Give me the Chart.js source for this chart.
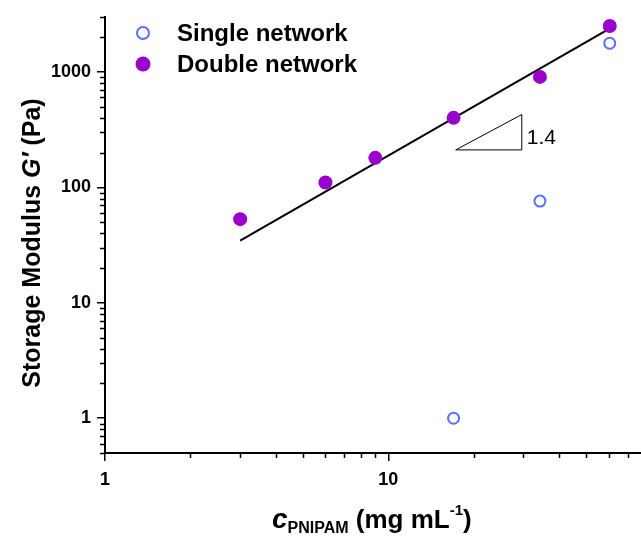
<!DOCTYPE html>
<html>
<head>
<meta charset="utf-8">
<script src="https://cdn.jsdelivr.net/npm/chart.js@4.4.1/dist/chart.umd.min.js"></script>
<style>
  html, body { margin: 0; padding: 0; background: #fff; }
  #wrap { width: 641px; height: 536px; position: relative; }
</style>
</head>
<body>
<div id="wrap"><canvas id="myChart"></canvas></div>
<script>
// data
const concDouble = [3, 6, 9, 17, 34.3, 60.5];
const modDouble = [53, 110, 180, 400, 905, 2500];
const concSingle = [17, 34.3, 60.5];
const modSingle = [1, 76, 1770];
// power law fit line (slope ~1.4)
const fitConc = [3, 58.5];
const fitMod = [34.6, 2265];
// slope triangle
const triConc = [17.3, 29.6, 29.6, 17.3];
const triMod = [211, 211, 427, 211];
const slopeText = '1.4';
// ticks
const xTicks = [1, 10];
const yTicks = [1, 10, 100, 1000];

const purple = 'rgb(153, 0, 204)';
const blue = 'rgb(90, 110, 255)';
const FONT = 'Arial, "Liberation Sans", sans-serif';

function pts(xs, ys) {
    return xs.map((x, i) => ({ x: x, y: ys[i] }));
}

// minor ticks, titles, legend and the slope label
const extras = {
    id: 'extras',
    afterDraw(chart) {
        const ctx = chart.ctx;
        const xs = chart.scales.x;
        const ys = chart.scales.y;
        const area = chart.chartArea;
        ctx.save();
        ctx.strokeStyle = '#000';
        ctx.lineWidth = 1.5;
        // minor ticks y
        for (let d = 0.1; d <= 1000; d *= 10) {
            for (let m = 2; m <= 9; m++) {
                const v = m * d;
                if (v < ys.min || v > ys.max) continue;
                const py = Math.round(ys.getPixelForValue(v)) + 0.5;
                ctx.beginPath();
                ctx.moveTo(area.left - 5, py);
                ctx.lineTo(area.left, py);
                ctx.stroke();
            }
        }
        // minor ticks x
        for (let d = 1; d <= 10; d *= 10) {
            for (let m = 2; m <= 9; m++) {
                const v = m * d;
                if (v < xs.min || v > xs.max) continue;
                const px = Math.round(xs.getPixelForValue(v)) + 0.5;
                ctx.beginPath();
                ctx.moveTo(px, area.bottom);
                ctx.lineTo(px, area.bottom + 5);
                ctx.stroke();
            }
        }

        ctx.fillStyle = '#000';
        ctx.textBaseline = 'alphabetic';
        // y title
        ctx.save();
        ctx.translate(40, 243);
        ctx.rotate(-Math.PI / 2);
        const p1 = 'Storage Modulus ';
        const p2 = 'G\u2032';
        const p3 = ' (Pa)';
        ctx.font = 'bold 25px ' + FONT;
        const w1 = ctx.measureText(p1).width;
        const w3 = ctx.measureText(p3).width;
        ctx.font = 'italic bold 25px ' + FONT;
        const w2 = ctx.measureText(p2).width;
        let tx = -(w1 + w2 + w3) / 2;
        ctx.font = 'bold 25px ' + FONT;
        ctx.textAlign = 'left';
        ctx.fillText(p1, tx, 0);
        tx += w1;
        ctx.font = 'italic bold 25px ' + FONT;
        ctx.fillText(p2, tx, 0);
        tx += w2;
        ctx.font = 'bold 25px ' + FONT;
        ctx.fillText(p3, tx, 0);
        ctx.restore();

        // x title
        let x0 = 272;
        const base = 528;
        ctx.textAlign = 'left';
        ctx.font = 'italic bold 28px ' + FONT;
        ctx.fillText('c', x0, base);
        x0 += ctx.measureText('c').width;
        ctx.font = 'bold 16px ' + FONT;
        ctx.fillText('PNIPAM', x0, base + 5);
        x0 += ctx.measureText('PNIPAM').width;
        ctx.font = 'bold 26px ' + FONT;
        ctx.fillText(' (mg mL', x0, base);
        x0 += ctx.measureText(' (mg mL').width;
        ctx.font = 'bold 15px ' + FONT;
        ctx.fillText('-1', x0, base - 13);
        x0 += ctx.measureText('-1').width;
        ctx.font = 'bold 26px ' + FONT;
        ctx.fillText(')', x0, base);

        // legend
        ctx.lineWidth = 2;
        ctx.strokeStyle = blue;
        ctx.beginPath();
        ctx.arc(143, 33, 6, 0, Math.PI * 2);
        ctx.stroke();
        ctx.fillStyle = purple;
        ctx.beginPath();
        ctx.arc(143, 64, 7.5, 0, Math.PI * 2);
        ctx.fill();
        ctx.fillStyle = '#000';
        ctx.font = 'bold 24px ' + FONT;
        ctx.textBaseline = 'middle';
        ctx.fillText('Single network', 177, 34);
        ctx.fillText('Double network', 177, 65);

        // slope label
        ctx.font = '21px ' + FONT;
        ctx.fillText(slopeText, xs.getPixelForValue(triConc[1]) + 5, ys.getPixelForValue(300) + 6);
        ctx.restore();
    }
};

const data = {
    datasets: [
        {
            label: 'Double network',
            data: pts(concDouble, modDouble),
            backgroundColor: purple,
            borderColor: purple,
            pointRadius: 7,
            pointBorderWidth: 0,
            showLine: false
        },
        {
            label: 'Single network',
            data: pts(concSingle, modSingle),
            backgroundColor: 'rgba(0,0,0,0)',
            borderColor: blue,
            pointRadius: 5.5,
            pointBorderWidth: 2,
            showLine: false
        },
        {
            label: 'fit',
            data: pts(fitConc, fitMod),
            borderColor: '#000',
            borderWidth: 2,
            pointRadius: 0,
            showLine: true
        },
        {
            label: 'slope',
            data: pts(triConc, triMod),
            borderColor: '#000',
            borderWidth: 1,
            pointRadius: 0,
            showLine: true
        }
    ]
};

const config = {
    type: 'scatter',
    data: data,
    options: {
        responsive: true,
        maintainAspectRatio: false,
        animation: false,
        layout: { autoPadding: false, padding: { top: 16, right: 0, bottom: 0, left: 0 } },
        clip: false,
        plugins: {
            legend: { display: false },
            tooltip: { enabled: false }
        },
        scales: {
            x: {
                type: 'logarithmic',
                min: 1,
                max: 78,
                afterBuildTicks: (scale) => { scale.ticks = xTicks.map(v => ({ value: v })); },
                afterFit: (scale) => { scale.height = 83; },
                border: { color: '#000', width: 2 },
                grid: { drawOnChartArea: false, drawTicks: true, tickLength: 8, color: '#000', lineWidth: 1.5 },
                ticks: {
                    color: '#000',
                    padding: 8,
                    maxRotation: 0,
                    autoSkip: false,
                    font: { family: FONT, size: 18, weight: 'bold' },
                    callback: (v) => String(v)
                }
            },
            y: {
                type: 'logarithmic',
                min: 0.5,
                max: 3000,
                afterBuildTicks: (scale) => { scale.ticks = yTicks.map(v => ({ value: v })); },
                afterFit: (scale) => { scale.width = 105; },
                border: { color: '#000', width: 2 },
                grid: { drawOnChartArea: false, drawTicks: true, tickLength: 8, color: '#000', lineWidth: 1.5 },
                ticks: {
                    color: '#000',
                    padding: 6,
                    autoSkip: false,
                    font: { family: FONT, size: 18, weight: 'bold' },
                    callback: (v) => String(v)
                }
            }
        }
    },
    plugins: [extras]
};

const myChart = new Chart(document.getElementById('myChart'), config);
</script>
</body>
</html>
